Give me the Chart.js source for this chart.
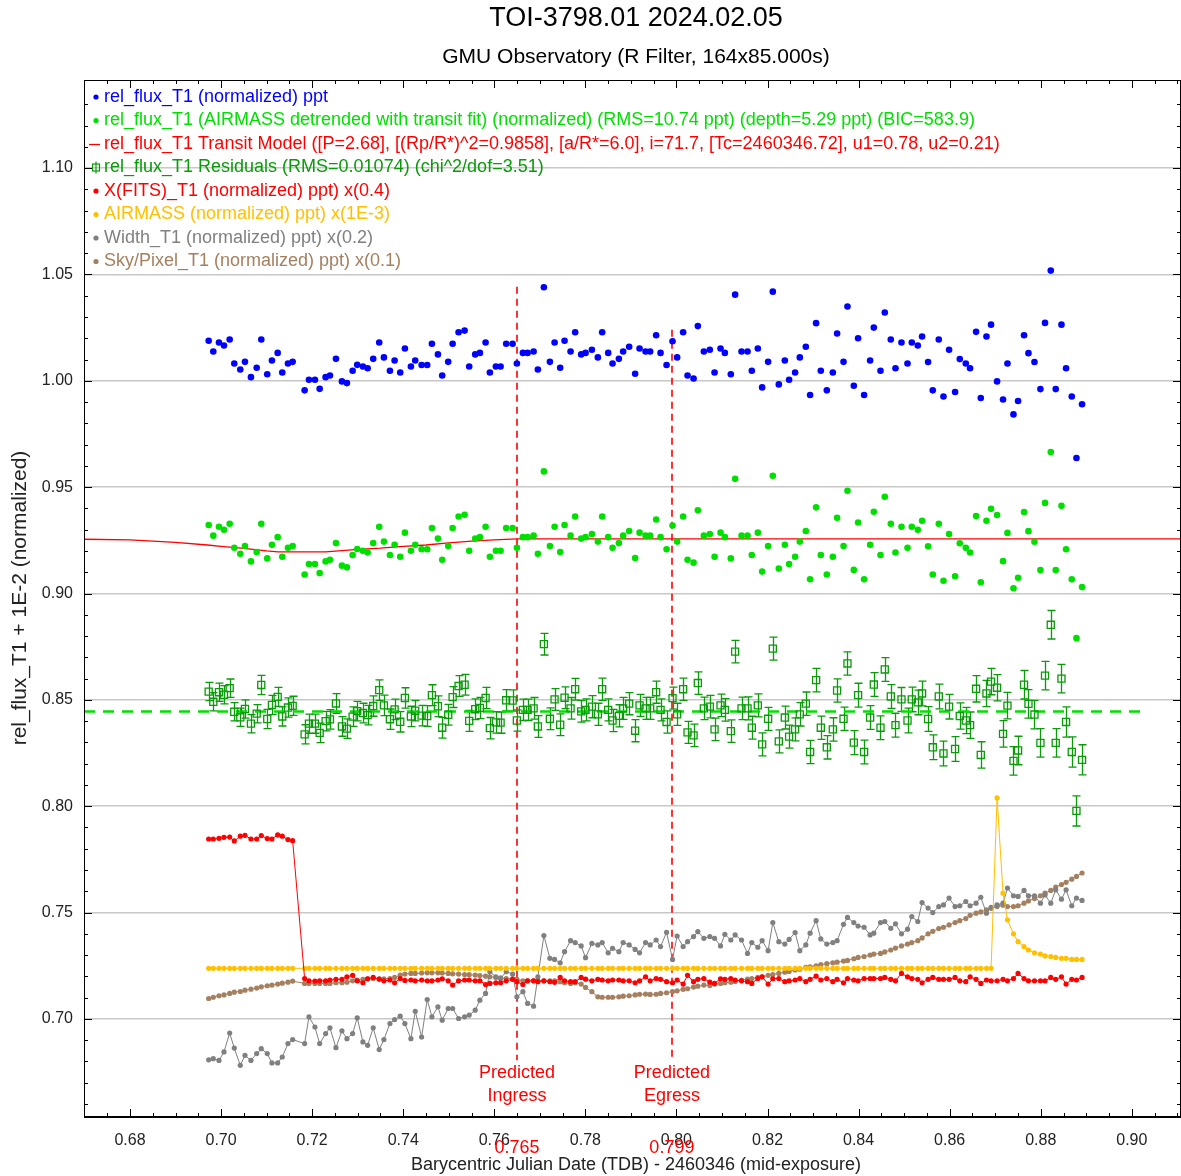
<!DOCTYPE html>
<html lang="en">
<head>
<meta charset="UTF-8">
<title>TOI-3798.01 2024.02.05</title>
<script src="https://cdn.jsdelivr.net/npm/chart.js@4.4.1/dist/chart.umd.min.js"></script>
<style>
  html, body { margin: 0; padding: 0; background: #fff; }
</style>
</head>
<body>
<canvas id="lc" width="1181" height="1176"></canvas>

<script>
// ---------- data ----------
// BJD_TDB - 2460346 (mid-exposure)
var TIME = [
  0.69728, 0.69829, 0.69954, 0.70064, 0.70189, 0.70290, 0.70422, 0.70525, 0.70656, 0.70782,
  0.70883, 0.71014, 0.71117, 0.71243, 0.71344, 0.71469, 0.71572, 0.71835, 0.71930, 0.72061,
  0.72165, 0.72296, 0.72391, 0.72523, 0.72654, 0.72764, 0.72889, 0.72990, 0.73115, 0.73219,
  0.73341, 0.73473, 0.73576, 0.73708, 0.73811, 0.73934, 0.74037, 0.74169, 0.74264, 0.74404,
  0.74527, 0.74630, 0.74762, 0.74856, 0.74988, 0.75085, 0.75216, 0.75348, 0.75449, 0.75581,
  0.75684, 0.75809, 0.75903, 0.76035, 0.76138, 0.76261, 0.76402, 0.76496, 0.76628, 0.76731,
  0.76863, 0.76957, 0.77089, 0.77221, 0.77324, 0.77447, 0.77543, 0.77675, 0.77776, 0.77908,
  0.78004, 0.78143, 0.78274, 0.78369, 0.78501, 0.78597, 0.78736, 0.78830, 0.78962, 0.79093,
  0.79190, 0.79322, 0.79423, 0.79554, 0.79651, 0.79783, 0.79914, 0.80015, 0.80147, 0.80244,
  0.80376, 0.80470, 0.80602, 0.80733, 0.80837, 0.80968, 0.81063, 0.81194, 0.81289, 0.81429,
  0.81561, 0.81655, 0.81787, 0.81882, 0.82013, 0.82116, 0.82248, 0.82380, 0.82474, 0.82606,
  0.82709, 0.82841, 0.82935, 0.83067, 0.83170, 0.83302, 0.83434, 0.83528, 0.83669, 0.83756,
  0.83895, 0.83989, 0.84121, 0.84253, 0.84334, 0.84481, 0.84575, 0.84707, 0.84810, 0.84942,
  0.85074, 0.85168, 0.85300, 0.85394, 0.85526, 0.85629, 0.85761, 0.85864, 0.85987, 0.86119,
  0.86222, 0.86354, 0.86448, 0.86580, 0.86683, 0.86808, 0.86909, 0.87041, 0.87172, 0.87269,
  0.87401, 0.87502, 0.87633, 0.87730, 0.87862, 0.87993, 0.88094, 0.88220, 0.88329, 0.88455,
  0.88556, 0.88681, 0.88784, 0.88907
];

// rel_flux_T1 (normalized)
var REL_FLUX = [
  1.0188, 1.0138, 1.0180, 1.0166, 1.0194, 1.0081, 1.0053, 1.0089, 1.0017, 1.0061,
  1.0194, 1.0031, 1.0095, 1.0131, 1.0039, 1.0081, 1.0089, 0.9955, 1.0005, 1.0005,
  0.9962, 1.0017, 1.0025, 1.0103, 0.9997, 0.9989, 1.0047, 1.0075, 1.0067, 1.0059,
  1.0103, 1.0180, 1.0110, 1.0047, 1.0095, 1.0039, 1.0152, 1.0067, 1.0095, 1.0074,
  1.0074, 1.0174, 1.0124, 1.0025, 1.0089, 1.0174, 1.0228, 1.0236, 1.0067, 1.0124,
  1.0131, 1.0180, 1.0039, 1.0067, 1.0067, 1.0174, 1.0174, 1.0081, 1.0131, 1.0131,
  1.0138, 1.0053, 1.0440, 1.0089, 1.0180, 1.0061, 1.0188, 1.0138, 1.0228, 1.0124,
  1.0131, 1.0146, 1.0110, 1.0228, 1.0131, 1.0081, 1.0103, 1.0138, 1.0160, 1.0033,
  1.0152, 1.0138, 1.0138, 1.0214, 1.0131, 1.0074, 1.0186, 1.0110, 1.0228, 1.0025,
  1.0011, 1.0257, 1.0138, 1.0146, 1.0039, 1.0152, 1.0131, 1.0031, 1.0405, 1.0138,
  1.0138, 1.0047, 1.0152, 0.9969, 1.0089, 1.0419, 0.9983, 1.0095, 1.0005, 1.0039,
  1.0110, 1.0160, 0.9933, 1.0271, 1.0047, 0.9955, 1.0039, 1.0222, 1.0089, 1.0349,
  0.9977, 1.0200, 0.9933, 1.0095, 1.0250, 1.0047, 1.0321, 1.0194, 1.0059, 1.0180,
  1.0081, 1.0180, 1.0166, 1.0208, 1.0088, 0.9955, 1.0194, 0.9926, 1.0146, 0.9947,
  1.0102, 1.0081, 1.0059, 1.0230, 0.9919, 1.0208, 1.0264, 0.9997, 0.9912, 1.0081,
  0.9842, 0.9905, 1.0214, 1.0130, 1.0088, 0.9961, 1.0272, 1.0518, 0.9961, 1.0264,
  1.0059, 0.9926, 0.9637, 0.9890
];

// rel_flux_T1 AIRMASS detrended (shifted)
var DETRENDED = [
  0.9322, 0.9272, 0.9314, 0.9300, 0.9328, 0.9215, 0.9187, 0.9223, 0.9151, 0.9195,
  0.9328, 0.9165, 0.9229, 0.9265, 0.9173, 0.9215, 0.9223, 0.9089, 0.9139, 0.9139,
  0.9096, 0.9151, 0.9159, 0.9237, 0.9131, 0.9123, 0.9181, 0.9209, 0.9201, 0.9193,
  0.9237, 0.9314, 0.9244, 0.9181, 0.9229, 0.9173, 0.9286, 0.9201, 0.9229, 0.9208,
  0.9208, 0.9308, 0.9258, 0.9159, 0.9223, 0.9308, 0.9362, 0.9370, 0.9201, 0.9258,
  0.9265, 0.9314, 0.9173, 0.9201, 0.9201, 0.9308, 0.9308, 0.9215, 0.9265, 0.9265,
  0.9272, 0.9187, 0.9574, 0.9223, 0.9314, 0.9195, 0.9322, 0.9272, 0.9362, 0.9258,
  0.9265, 0.9280, 0.9244, 0.9362, 0.9265, 0.9215, 0.9237, 0.9272, 0.9294, 0.9167,
  0.9286, 0.9272, 0.9272, 0.9348, 0.9265, 0.9208, 0.9320, 0.9244, 0.9362, 0.9159,
  0.9145, 0.9391, 0.9272, 0.9280, 0.9173, 0.9286, 0.9265, 0.9165, 0.9539, 0.9272,
  0.9272, 0.9181, 0.9286, 0.9103, 0.9223, 0.9553, 0.9117, 0.9229, 0.9139, 0.9173,
  0.9244, 0.9294, 0.9067, 0.9405, 0.9181, 0.9089, 0.9173, 0.9356, 0.9223, 0.9483,
  0.9111, 0.9334, 0.9067, 0.9229, 0.9384, 0.9181, 0.9455, 0.9328, 0.9193, 0.9314,
  0.9215, 0.9314, 0.9300, 0.9342, 0.9222, 0.9089, 0.9328, 0.9060, 0.9280, 0.9081,
  0.9236, 0.9215, 0.9193, 0.9364, 0.9053, 0.9342, 0.9398, 0.9369, 0.9152, 0.9285,
  0.9025, 0.9074, 0.9383, 0.9293, 0.9243, 0.9110, 0.9426, 0.9665, 0.9110, 0.9412,
  0.9208, 0.9067, 0.8790, 0.9030
];

// transit model (drawn as a line over the whole axis)
var MODEL_T = [0.6699, 0.680, 0.690, 0.697, 0.700, 0.705, 0.710, 0.7125, 0.723,
               0.730, 0.735, 0.740, 0.745, 0.750, 0.755, 0.760, 0.765, 0.9108];
var MODEL_FLUX = [0.9255, 0.9252, 0.9240, 0.9228, 0.9222, 0.9212, 0.9200, 0.9196, 0.9196,
                  0.9207, 0.9213, 0.9222, 0.9228, 0.9238, 0.9246, 0.9252, 0.9257, 0.9257];

// residuals (shifted) and their errors
var RESIDUAL = [
  0.8539, 0.8491, 0.8536, 0.8524, 0.8555, 0.8444, 0.8418, 0.8457, 0.8388, 0.8435,
  0.8570, 0.8410, 0.8476, 0.8514, 0.8422, 0.8464, 0.8472, 0.8338, 0.8388, 0.8388,
  0.8345, 0.8400, 0.8408, 0.8483, 0.8375, 0.8365, 0.8421, 0.8447, 0.8438, 0.8428,
  0.8471, 0.8546, 0.8474, 0.8409, 0.8455, 0.8397, 0.8509, 0.8422, 0.8449, 0.8426,
  0.8424, 0.8522, 0.8470, 0.8369, 0.8430, 0.8513, 0.8565, 0.8571, 0.8401, 0.8456,
  0.8462, 0.8509, 0.8367, 0.8394, 0.8393, 0.8498, 0.8497, 0.8403, 0.8453, 0.8453,
  0.8460, 0.8375, 0.8762, 0.8411, 0.8502, 0.8383, 0.8510, 0.8460, 0.8550, 0.8446,
  0.8453, 0.8468, 0.8432, 0.8550, 0.8453, 0.8403, 0.8425, 0.8460, 0.8482, 0.8355,
  0.8474, 0.8460, 0.8460, 0.8536, 0.8453, 0.8396, 0.8508, 0.8432, 0.8550, 0.8347,
  0.8333, 0.8579, 0.8460, 0.8468, 0.8361, 0.8474, 0.8453, 0.8353, 0.8727, 0.8460,
  0.8460, 0.8369, 0.8474, 0.8291, 0.8411, 0.8741, 0.8305, 0.8417, 0.8327, 0.8361,
  0.8432, 0.8482, 0.8255, 0.8593, 0.8369, 0.8277, 0.8361, 0.8544, 0.8411, 0.8671,
  0.8299, 0.8522, 0.8255, 0.8417, 0.8572, 0.8369, 0.8643, 0.8516, 0.8381, 0.8502,
  0.8403, 0.8502, 0.8488, 0.8530, 0.8410, 0.8277, 0.8516, 0.8248, 0.8468, 0.8269,
  0.8424, 0.8403, 0.8381, 0.8552, 0.8241, 0.8530, 0.8586, 0.8557, 0.8340, 0.8473,
  0.8213, 0.8262, 0.8571, 0.8481, 0.8431, 0.8298, 0.8614, 0.8853, 0.8298, 0.8600,
  0.8396, 0.8255, 0.7978, 0.8218
];
var RESIDUAL_ERR = [
  0.0043, 0.0043, 0.0043, 0.0043, 0.0043, 0.0043, 0.0043, 0.0043, 0.0043, 0.0043,
  0.0045, 0.0045, 0.0045, 0.0045, 0.0045, 0.0045, 0.0045, 0.0045, 0.0045, 0.0045,
  0.0046, 0.0046, 0.0046, 0.0046, 0.0046, 0.0046, 0.0046, 0.0046, 0.0046, 0.0046,
  0.0048, 0.0048, 0.0048, 0.0048, 0.0048, 0.0048, 0.0048, 0.0048, 0.0048, 0.0048,
  0.0049, 0.0049, 0.0049, 0.0049, 0.0049, 0.0049, 0.0049, 0.0049, 0.0049, 0.0049,
  0.0050, 0.0050, 0.0050, 0.0050, 0.0050, 0.0050, 0.0050, 0.0050, 0.0050, 0.0050,
  0.0051, 0.0051, 0.0051, 0.0051, 0.0051, 0.0051, 0.0051, 0.0051, 0.0051, 0.0051,
  0.0052, 0.0052, 0.0052, 0.0052, 0.0052, 0.0052, 0.0052, 0.0052, 0.0052, 0.0052,
  0.0052, 0.0052, 0.0052, 0.0052, 0.0052, 0.0052, 0.0052, 0.0052, 0.0052, 0.0052,
  0.0053, 0.0053, 0.0053, 0.0053, 0.0053, 0.0053, 0.0053, 0.0053, 0.0053, 0.0053,
  0.0054, 0.0054, 0.0054, 0.0054, 0.0054, 0.0054, 0.0054, 0.0054, 0.0054, 0.0054,
  0.0055, 0.0055, 0.0055, 0.0055, 0.0055, 0.0055, 0.0055, 0.0055, 0.0055, 0.0055,
  0.0056, 0.0056, 0.0056, 0.0056, 0.0056, 0.0056, 0.0056, 0.0056, 0.0056, 0.0056,
  0.0058, 0.0058, 0.0058, 0.0058, 0.0058, 0.0058, 0.0058, 0.0058, 0.0058, 0.0058,
  0.0062, 0.0062, 0.0062, 0.0062, 0.0062, 0.0062, 0.0062, 0.0062, 0.0062, 0.0062,
  0.0067, 0.0067, 0.0067, 0.0067, 0.0067, 0.0067, 0.0067, 0.0067, 0.0067, 0.0067,
  0.0071, 0.0071, 0.0071, 0.0071
];
var RESIDUAL_BASE = 0.8445;

// X(FITS)_T1 x(0.4)
var XFITS = [
  0.7846, 0.7846, 0.7849, 0.7854, 0.7855, 0.7837, 0.7859, 0.7863, 0.7846, 0.7846,
  0.7862, 0.7848, 0.7846, 0.7865, 0.7859, 0.7843, 0.7838, 0.7190, 0.7179, 0.7178,
  0.7179, 0.7179, 0.7183, 0.7186, 0.7186, 0.7198, 0.7205, 0.7179, 0.7170, 0.7189,
  0.7195, 0.7187, 0.7179, 0.7183, 0.7170, 0.7190, 0.7181, 0.7183, 0.7179, 0.7183,
  0.7179, 0.7179, 0.7183, 0.7189, 0.7179, 0.7159, 0.7179, 0.7183, 0.7183, 0.7179,
  0.7179, 0.7162, 0.7167, 0.7170, 0.7170, 0.7179, 0.7186, 0.7175, 0.7162, 0.7179,
  0.7179, 0.7175, 0.7179, 0.7175, 0.7172, 0.7195, 0.7179, 0.7175, 0.7175, 0.7195,
  0.7187, 0.7179, 0.7186, 0.7183, 0.7179, 0.7183, 0.7183, 0.7179, 0.7179, 0.7170,
  0.7179, 0.7198, 0.7179, 0.7190, 0.7186, 0.7175, 0.7170, 0.7183, 0.7164, 0.7205,
  0.7175, 0.7186, 0.7190, 0.7173, 0.7167, 0.7189, 0.7186, 0.7190, 0.7183, 0.7179,
  0.7175, 0.7167, 0.7190, 0.7198, 0.7164, 0.7189, 0.7190, 0.7175, 0.7179, 0.7183,
  0.7190, 0.7175, 0.7186, 0.7201, 0.7183, 0.7190, 0.7175, 0.7186, 0.7170, 0.7190,
  0.7183, 0.7179, 0.7190, 0.7190, 0.7190, 0.7190, 0.7195, 0.7186, 0.7179, 0.7214,
  0.7198, 0.7190, 0.7186, 0.7170, 0.7186, 0.7195, 0.7186, 0.7186, 0.7186, 0.7195,
  0.7179, 0.7175, 0.7198, 0.7186, 0.7167, 0.7183, 0.7179, 0.7179, 0.7186, 0.7179,
  0.7190, 0.7214, 0.7190, 0.7179, 0.7179, 0.7179, 0.7179, 0.7195, 0.7186, 0.7198,
  0.7164, 0.7186, 0.7183, 0.7195
];

// AIRMASS x(1E-3)
var AIRMASS = [
  0.7238, 0.7238, 0.7238, 0.7238, 0.7238, 0.7238, 0.7238, 0.7238, 0.7238, 0.7238,
  0.7238, 0.7238, 0.7238, 0.7238, 0.7238, 0.7238, 0.7238, 0.7238, 0.7238, 0.7238,
  0.7238, 0.7238, 0.7238, 0.7238, 0.7238, 0.7238, 0.7238, 0.7238, 0.7238, 0.7238,
  0.7238, 0.7238, 0.7238, 0.7238, 0.7238, 0.7238, 0.7238, 0.7238, 0.7238, 0.7238,
  0.7238, 0.7238, 0.7238, 0.7238, 0.7238, 0.7238, 0.7238, 0.7238, 0.7238, 0.7238,
  0.7238, 0.7238, 0.7238, 0.7238, 0.7238, 0.7238, 0.7238, 0.7238, 0.7238, 0.7238,
  0.7238, 0.7238, 0.7238, 0.7238, 0.7238, 0.7238, 0.7238, 0.7238, 0.7238, 0.7238,
  0.7238, 0.7238, 0.7238, 0.7238, 0.7238, 0.7238, 0.7238, 0.7238, 0.7238, 0.7238,
  0.7238, 0.7238, 0.7238, 0.7238, 0.7238, 0.7238, 0.7238, 0.7238, 0.7238, 0.7238,
  0.7238, 0.7238, 0.7238, 0.7238, 0.7238, 0.7238, 0.7238, 0.7238, 0.7238, 0.7238,
  0.7238, 0.7238, 0.7238, 0.7238, 0.7238, 0.7238, 0.7238, 0.7238, 0.7238, 0.7238,
  0.7238, 0.7238, 0.7238, 0.7238, 0.7238, 0.7238, 0.7238, 0.7238, 0.7238, 0.7238,
  0.7238, 0.7238, 0.7238, 0.7238, 0.7238, 0.7238, 0.7238, 0.7238, 0.7238, 0.7238,
  0.7238, 0.7238, 0.7238, 0.7238, 0.7238, 0.7238, 0.7238, 0.7238, 0.7238, 0.7238,
  0.7238, 0.7238, 0.7238, 0.7238, 0.7238, 0.7238, 0.7238, 0.8039, 0.7591, 0.7466,
  0.7400, 0.7363, 0.7340, 0.7324, 0.7311, 0.7305, 0.7296, 0.7293, 0.7289, 0.7285,
  0.7285, 0.7280, 0.7280, 0.7280
];

// Width_T1 x(0.2)
var WIDTH = [
  0.6808, 0.6813, 0.6805, 0.6845, 0.6934, 0.6863, 0.6782, 0.6829, 0.6805, 0.6837,
  0.6860, 0.6837, 0.6793, 0.6793, 0.6821, 0.6884, 0.6903, 0.6884, 0.7010, 0.6962,
  0.6884, 0.6931, 0.6958, 0.6865, 0.6944, 0.6907, 0.6931, 0.7005, 0.6892, 0.6876,
  0.6958, 0.6856, 0.6903, 0.6978, 0.6997, 0.7013, 0.6978, 0.6907, 0.7036, 0.6915,
  0.7091, 0.7010, 0.7057, 0.6994, 0.7049, 0.7049, 0.7002, 0.7010, 0.7018, 0.7041,
  0.7088, 0.7120, 0.7222, 0.7198, 0.7190, 0.7222, 0.7211, 0.7104, 0.7128, 0.7073,
  0.7060, 0.7198, 0.7392, 0.7285, 0.7280, 0.7264, 0.7316, 0.7368, 0.7359, 0.7343,
  0.7288, 0.7355, 0.7348, 0.7359, 0.7311, 0.7332, 0.7316, 0.7359, 0.7348, 0.7327,
  0.7311, 0.7359, 0.7348, 0.7371, 0.7340, 0.7407, 0.7280, 0.7390, 0.7340, 0.7363,
  0.7387, 0.7410, 0.7379, 0.7387, 0.7379, 0.7343, 0.7398, 0.7371, 0.7395, 0.7371,
  0.7308, 0.7359, 0.7337, 0.7368, 0.7321, 0.7453, 0.7363, 0.7352, 0.7374, 0.7406,
  0.7321, 0.7348, 0.7403, 0.7462, 0.7376, 0.7352, 0.7359, 0.7368, 0.7445, 0.7477,
  0.7453, 0.7437, 0.7431, 0.7395, 0.7403, 0.7453, 0.7458, 0.7426, 0.7447, 0.7400,
  0.7422, 0.7481, 0.7458, 0.7547, 0.7521, 0.7500, 0.7528, 0.7536, 0.7568, 0.7528,
  0.7532, 0.7552, 0.7532, 0.7544, 0.7572, 0.7497, 0.7525, 0.7536, 0.7544, 0.7615,
  0.7579, 0.7576, 0.7604, 0.7579, 0.7579, 0.7544, 0.7583, 0.7544, 0.7607, 0.7563,
  0.7607, 0.7532, 0.7568, 0.7557
];

// Sky/Pixel_T1 x(0.1)
var SKY = [
  0.7096, 0.7102, 0.7109, 0.7113, 0.7120, 0.7126, 0.7129, 0.7135, 0.7140, 0.7145,
  0.7151, 0.7156, 0.7159, 0.7164, 0.7168, 0.7173, 0.7178, 0.7167, 0.7167, 0.7167,
  0.7167, 0.7167, 0.7167, 0.7170, 0.7170, 0.7173, 0.7179, 0.7183, 0.7186, 0.7189,
  0.7190, 0.7189, 0.7189, 0.7190, 0.7195, 0.7206, 0.7211, 0.7214, 0.7214, 0.7216,
  0.7217, 0.7217, 0.7217, 0.7216, 0.7214, 0.7212, 0.7211, 0.7209, 0.7208, 0.7206,
  0.7204, 0.7201, 0.7198, 0.7195, 0.7193, 0.7190, 0.7189, 0.7186, 0.7179, 0.7179,
  0.7179, 0.7179, 0.7179, 0.7179, 0.7179, 0.7175, 0.7170, 0.7167, 0.7170, 0.7164,
  0.7148, 0.7128, 0.7104, 0.7102, 0.7102, 0.7102, 0.7104, 0.7107, 0.7109, 0.7113,
  0.7116, 0.7117, 0.7115, 0.7116, 0.7120, 0.7123, 0.7129, 0.7132, 0.7139, 0.7142,
  0.7150, 0.7154, 0.7159, 0.7157, 0.7164, 0.7167, 0.7170, 0.7173, 0.7176, 0.7183,
  0.7187, 0.7190, 0.7195, 0.7198, 0.7205, 0.7209, 0.7214, 0.7220, 0.7223, 0.7230,
  0.7234, 0.7242, 0.7245, 0.7250, 0.7255, 0.7260, 0.7264, 0.7267, 0.7272, 0.7275,
  0.7283, 0.7289, 0.7293, 0.7300, 0.7305, 0.7308, 0.7315, 0.7324, 0.7333, 0.7343,
  0.7352, 0.7359, 0.7368, 0.7381, 0.7400, 0.7412, 0.7425, 0.7431, 0.7442, 0.7453,
  0.7462, 0.7472, 0.7487, 0.7497, 0.7503, 0.7513, 0.7520, 0.7528, 0.7535, 0.7528,
  0.7528, 0.7532, 0.7544, 0.7555, 0.7566, 0.7579, 0.7591, 0.7604, 0.7620, 0.7632,
  0.7642, 0.7657, 0.7670, 0.7686
];

var X_TICKS = [0.68, 0.70, 0.72, 0.74, 0.76, 0.78, 0.80, 0.82, 0.84, 0.86, 0.88, 0.90];
var Y_TICKS = [0.70, 0.75, 0.80, 0.85, 0.90, 0.95, 1.00, 1.05, 1.10];
var INGRESS = 0.765, EGRESS = 0.799;

var LEGEND = [
  { text: 'rel_flux_T1 (normalized) ppt', color: '#0000ff', mark: 'dot' },
  { text: 'rel_flux_T1 (AIRMASS detrended with transit fit) (normalized) (RMS=10.74 ppt) (depth=5.29 ppt) (BIC=583.9)', color: '#00e000', mark: 'dot' },
  { text: 'rel_flux_T1 Transit Model ([P=2.68], [(Rp/R*)^2=0.9858], [a/R*=6.0], i=71.7, [Tc=2460346.72], u1=0.78, u2=0.21)', color: '#ff0000', mark: 'line' },
  { text: 'rel_flux_T1 Residuals (RMS=0.01074) (chi^2/dof=3.51)', color: '#0a9a0a', mark: 'box' },
  { text: 'X(FITS)_T1 (normalized) ppt) x(0.4)', color: '#ff0000', mark: 'dot' },
  { text: 'AIRMASS (normalized) ppt) x(1E-3)', color: '#ffc000', mark: 'dot' },
  { text: 'Width_T1 (normalized) ppt) x(0.2)', color: '#808080', mark: 'dot' },
  { text: 'Sky/Pixel_T1 (normalized) ppt) x(0.1)', color: '#a58060', mark: 'dot' }
];

// ---------- chart ----------
var FONT = '"Liberation Sans", Arial, sans-serif';
var C_BLUE = '#0000ff', C_GREEN = '#00e000', C_RESID = '#0a9a0a', C_RED = '#ff0000',
    C_GOLD = '#ffc000', C_GREY = '#808080', C_BROWN = '#a58060';

function pts(ys) { return TIME.map(function (t, i) { return { x: t, y: ys[i] }; }); }

function series(label, ys, color, line) {
  return {
    label: label, data: pts(ys), showLine: !!line, borderColor: color, backgroundColor: color,
    borderWidth: 1, pointRadius: line ? 2.6 : 3.3, pointBorderWidth: 0, pointStyle: 'circle'
  };
}

var datasets = [
  series('rel_flux_T1', REL_FLUX, C_BLUE, false),
  series('detrended', DETRENDED, C_GREEN, false),
  {
    label: 'residuals', data: pts(RESIDUAL), showLine: false, pointStyle: 'rect',
    pointRadius: 5, borderColor: C_RESID, backgroundColor: 'rgba(0,0,0,0)', pointBorderWidth: 1.3
  },
  {
    label: 'model', data: MODEL_T.map(function (t, i) { return { x: t, y: MODEL_FLUX[i] }; }),
    showLine: true, borderColor: C_RED, borderWidth: 1.3, pointRadius: 0
  },
  {
    label: 'residual base', data: [{ x: 0.6699, y: RESIDUAL_BASE }, { x: 0.9023, y: RESIDUAL_BASE }],
    showLine: true, borderColor: C_GREEN, borderWidth: 2.5, borderDash: [11, 8], pointRadius: 0
  },
  series('X(FITS)', XFITS, C_RED, true),
  series('AIRMASS', AIRMASS, C_GOLD, true),
  series('Width', WIDTH, C_GREY, true),
  series('Sky', SKY, C_BROWN, true)
];

var aij = {
  id: 'aij',
  beforeDraw: function (chart) {
    var c = chart.ctx;
    c.save(); c.fillStyle = '#fff'; c.fillRect(0, 0, chart.width, chart.height); c.restore();
  },
  beforeDatasetsDraw: function (chart) {
    var c = chart.ctx, xs = chart.scales.x, ys = chart.scales.y;
    c.save();
    // predicted ingress / egress lines
    c.strokeStyle = C_RED; c.lineWidth = 1.6; c.setLineDash([7, 5]);
    [[INGRESS, 1.0442], [EGRESS, 1.0240]].forEach(function (p) {
      var px = Math.round(xs.getPixelForValue(p[0]));
      c.beginPath();
      c.moveTo(px, ys.getPixelForValue(p[1])); c.lineTo(px, ys.getPixelForValue(0.6806));
      c.stroke();
    });
    c.setLineDash([]);
    // residual error bars
    c.strokeStyle = C_RESID; c.lineWidth = 1.3;
    RESIDUAL.forEach(function (v, i) {
      var px = Math.round(xs.getPixelForValue(TIME[i])) + 0.5;
      var y1 = ys.getPixelForValue(v + RESIDUAL_ERR[i]), y2 = ys.getPixelForValue(v - RESIDUAL_ERR[i]);
      c.beginPath();
      c.moveTo(px, y1); c.lineTo(px, y2);
      c.moveTo(px - 4, y1); c.lineTo(px + 4, y1);
      c.moveTo(px - 4, y2); c.lineTo(px + 4, y2);
      c.stroke();
    });
    c.restore();
  },
  afterDraw: function (chart) {
    var c = chart.ctx, a = chart.chartArea, xs = chart.scales.x, ys = chart.scales.y;
    c.save();
    // frame
    c.strokeStyle = '#000'; c.lineWidth = 1;
    c.strokeRect(a.left + 0.5, a.top + 0.5, a.right - a.left - 1, a.bottom - a.top - 1);

    // tick marks (major and minor, pointing inwards)
    c.beginPath();
    for (var v = 0.670; v <= 0.911; v += 0.005) {
      var vv = Math.round(v * 1000) / 1000;
      var major = Math.abs(vv / 0.02 - Math.round(vv / 0.02)) < 1e-6;
      var px = Math.round(xs.getPixelForValue(vv)) + 0.5, len = major ? 8 : 4;
      c.moveTo(px, a.bottom); c.lineTo(px, a.bottom - len);
      c.moveTo(px, a.top); c.lineTo(px, a.top + len);
    }
    for (var w = 0.66; w <= 1.14; w += 0.01) {
      var ww = Math.round(w * 100) / 100;
      var majorY = Math.abs(ww / 0.05 - Math.round(ww / 0.05)) < 1e-6;
      var py = Math.round(ys.getPixelForValue(ww)) + 0.5, ly = majorY ? 8 : 4;
      c.moveTo(a.left, py); c.lineTo(a.left + ly, py);
      c.moveTo(a.right, py); c.lineTo(a.right - ly, py);
    }
    c.stroke();

    // predicted labels
    c.fillStyle = C_RED; c.font = '18px ' + FONT; c.textAlign = 'center'; c.textBaseline = 'middle';
    [[INGRESS, 'Ingress'], [EGRESS, 'Egress']].forEach(function (p) {
      var px = xs.getPixelForValue(p[0]);
      c.fillText('Predicted', px, 1073);
      c.fillText(p[1], px, 1096);
      c.fillText(p[0].toFixed(3), px, 1148);
    });

    // legend
    c.textAlign = 'left'; c.font = '18px ' + FONT;
    LEGEND.forEach(function (it, k) {
      var y = 97 + k * 23.5;
      c.fillStyle = it.color; c.strokeStyle = it.color;
      if (it.mark === 'dot') {
        c.beginPath(); c.arc(96, y, 2.6, 0, Math.PI * 2); c.fill();
      } else if (it.mark === 'line') {
        c.lineWidth = 1.3; c.beginPath(); c.moveTo(89, y + 0.5); c.lineTo(100, y + 0.5); c.stroke();
      } else {
        c.lineWidth = 1.2; c.strokeRect(92.5, y - 3.5, 7, 7);
        c.beginPath(); c.moveTo(96, y - 6); c.lineTo(96, y + 6); c.stroke();
      }
      c.fillText(it.text, 104, y);
    });

    // titles
    c.fillStyle = '#000'; c.textAlign = 'center';
    c.font = '27px ' + FONT;
    c.fillText('TOI-3798.01 2024.02.05', 636, 19);
    c.font = '21px ' + FONT;
    c.fillText('GMU Observatory (R Filter, 164x85.000s)', 636, 57);
    c.font = '18px ' + FONT; c.fillStyle = '#222';
    c.fillText('Barycentric Julian Date (TDB) - 2460346 (mid-exposure)', 636, 1165);
    c.translate(20, 598); c.rotate(-Math.PI / 2);
    c.font = '21px ' + FONT;
    c.fillText('rel_flux_T1 + 1E-2 (normalized)', 0, 0);
    c.restore();
  }
};

new Chart(document.getElementById('lc'), {
  type: 'scatter',
  data: { datasets: datasets },
  options: {
    responsive: false, animation: false, devicePixelRatio: 1,
    layout: { autoPadding: false, padding: { top: 80, right: 0, left: 0, bottom: 0 } },
    plugins: { legend: { display: false }, tooltip: { enabled: false } },
    scales: {
      x: {
        type: 'linear', min: 0.6699, max: 0.9108,
        afterBuildTicks: function (s) { s.ticks = X_TICKS.map(function (v) { return { value: v }; }); },
        afterFit: function (s) { s.height = 59; s.paddingLeft = 0; s.paddingRight = 0; },
        grid: { drawOnChartArea: false, drawTicks: false },
        border: { color: '#000' },
        ticks: {
          autoSkip: false, maxRotation: 0, padding: 14, color: '#222',
          font: { family: FONT, size: 16 },
          callback: function (v) { return v.toFixed(2); }
        }
      },
      y: {
        type: 'linear', min: 0.6539, max: 1.1414,
        afterBuildTicks: function (s) { s.ticks = Y_TICKS.map(function (v) { return { value: v }; }); },
        afterFit: function (s) { s.width = 84; s.paddingTop = 0; s.paddingBottom = 0; },
        grid: { color: '#c8c8c8', lineWidth: 1.5, drawTicks: false },
        border: { color: '#000' },
        ticks: {
          autoSkip: false, padding: 11, color: '#222',
          font: { family: FONT, size: 16 },
          callback: function (v) { return v.toFixed(2); }
        }
      }
    }
  },
  plugins: [aij]
});
</script>
</body>
</html>
